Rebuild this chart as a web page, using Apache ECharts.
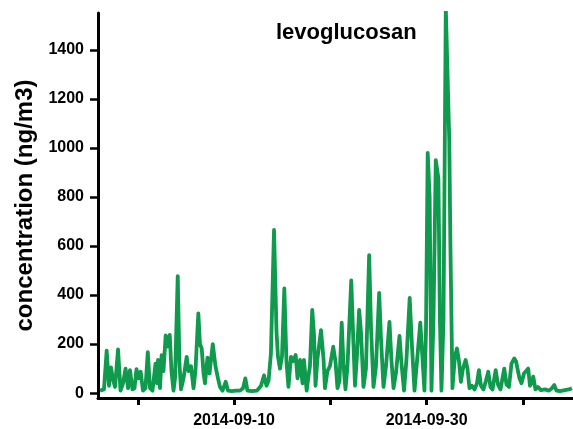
<!DOCTYPE html>
<html>
<head>
<meta charset="utf-8">
<script src="https://cdn.jsdelivr.net/npm/echarts@6/dist/echarts.min.js"></script>
<style>
html,body{margin:0;padding:0;background:#fff;}
#chart{width:573px;height:429px;}
</style>
</head>
<body>
<div id="chart"></div>
<script>
// Time of each sample, in days after 2014-09-01 00:00
const dayOffsets = [
-4.92,-4.51,-4.23,-3.99,-3.78,-3.57,-3.36,-3.05,-2.79,-2.53,-2.27,-2.01,-1.81,-1.55,-1.34,-1.13,-0.92,-0.70,-0.46,-0.20,
0.04,0.27,0.53,0.84,1.00,1.10,1.31,1.48,1.67,1.90,2.09,2.32,2.50,2.71,2.87,3.15,3.33,3.49,3.75,4.08,
4.27,4.53,4.79,4.99,5.29,5.46,5.64,5.83,5.98,6.24,6.45,6.79,7.07,7.33,7.54,7.80,8.13,8.37,8.78,9.20,
9.62,9.93,10.17,10.39,10.86,11.38,11.80,12.11,12.37,12.58,12.83,13.15,13.41,13.56,13.77,13.98,14.22,14.44,14.65,14.91,
15.12,15.40,15.59,15.85,16.11,16.26,16.54,16.73,16.88,17.12,17.30,17.46,17.66,18.03,18.29,18.44,18.70,18.96,19.30,19.53,
19.74,19.95,20.18,20.36,20.57,20.78,21.17,21.40,21.56,21.76,21.99,22.18,22.44,22.70,23.03,23.22,23.48,23.74,24.07,24.26,
24.52,24.78,25.14,25.35,25.56,25.81,26.18,26.39,26.65,26.91,27.24,27.48,27.74,28.00,28.34,28.51,28.77,28.93,29.11,29.31,
29.50,29.71,29.95,30.22,30.38,30.54,30.75,30.99,31.35,31.47,31.68,31.94,32.15,32.36,32.56,32.77,33.05,33.24,33.45,33.71,
33.97,34.23,34.43,34.64,34.90,35.16,35.40,35.63,35.84,36.17,36.41,36.67,37.06,37.29,37.55,37.81,38.10,38.28,38.45,38.64,
38.85,39.11,39.55,39.73,39.89,40.07,40.30,40.56,40.87,41.29,41.70,42.01,42.25,42.48,42.85,43.36,43.78,44.09
];
// Levoglucosan concentration (ng/m3)
const concentration = [
10,15,173,30,105,55,25,178,10,40,100,20,94,15,20,98,60,87,10,20,
167,20,10,120,40,135,20,155,90,235,190,237,90,10,60,477,120,15,60,148,
90,110,20,90,325,200,182,80,40,145,80,200,110,60,25,10,46,10,8,10,
10,20,60,10,8,10,30,72,30,50,162,665,250,148,100,150,427,130,25,148,
130,155,60,135,40,135,10,70,110,339,240,30,140,257,140,20,90,110,189,130,
20,50,287,120,15,110,460,200,30,150,339,250,25,100,563,270,25,110,409,220,
25,110,290,130,20,80,233,120,10,140,388,190,10,130,287,180,10,250,980,800,
10,300,950,875,300,10,300,1570,1032,600,20,150,182,130,46,100,135,100,20,30,
15,40,94,30,15,50,87,25,15,94,35,15,100,35,25,120,141,130,135,60,
40,80,100,30,40,67,15,25,12,15,10,20,33,10,8,12,15,20
];
// Axis ticks (days after 2014-09-01) and labelled ticks
const xTickDays = [-1, 9, 19, 29, 39];
const xLabelDays = [9, 29];
const yTickValues = [0, 200, 400, 600, 800, 1000, 1200, 1400];

const seriesData = dayOffsets.map((d, i) => [d, concentration[i]]);

function dayToLabel(d) {
  const dt = new Date(2014, 8, 1 + Math.round(d));
  const p = n => (n < 10 ? '0' : '') + n;
  return dt.getFullYear() + '-' + p(dt.getMonth() + 1) + '-' + p(dt.getDate());
}

const FONT = '"Liberation Sans", Arial, Helvetica, sans-serif';
const chart = echarts.init(document.getElementById('chart'), null, {renderer: 'canvas'});
chart.setOption({
  animation: false,
  backgroundColor: '#ffffff',
  title: {
    text: 'levoglucosan',
    left: 276,
    top: 22,
    padding: 0,
    textStyle: {fontFamily: FONT, fontSize: 22, fontWeight: 'bold', color: '#000'}
  },
  grid: {left: 98, right: 0, top: 13, bottom: 31, containLabel: false, outerBoundsMode: 'none'},
  xAxis: {
    type: 'value',
    min: -5.13,
    max: 44.2,
    axisLine: {show: true, onZero: false, lineStyle: {color: '#000', width: 3}},
    axisTick: {show: true, length: 7, lineStyle: {color: '#000', width: 3}, customValues: xTickDays},
    axisLabel: {
      show: true, margin: 15, customValues: xLabelDays,
      formatter: v => dayToLabel(v),
      fontFamily: FONT, fontSize: 16, fontWeight: 'bold', color: '#000'
    },
    splitLine: {show: false}
  },
  yAxis: {
    type: 'value',
    min: -20,
    max: 1550,
    name: 'concentration (ng/m3)',
    nameLocation: 'middle',
    nameGap: 61,
    nameTextStyle: {fontFamily: FONT, fontSize: 24, fontWeight: 'bold', color: '#000'},
    axisLine: {show: true, onZero: false, lineStyle: {color: '#000', width: 3}},
    axisTick: {show: true, length: 8, lineStyle: {color: '#000', width: 2.5}, customValues: yTickValues},
    axisLabel: {
      show: true, margin: 14, customValues: yTickValues,
      formatter: v => String(v),
      fontFamily: FONT, fontSize: 16, fontWeight: 'bold', color: '#000'
    },
    splitLine: {show: false}
  },
  series: [{
    type: 'line',
    data: seriesData,
    showSymbol: false,
    symbol: 'none',
    clip: true,
    lineStyle: {color: '#0f9a4e', width: 3.8, join: 'round'},
    z: 1
  }]
});
</script>
</body>
</html>
